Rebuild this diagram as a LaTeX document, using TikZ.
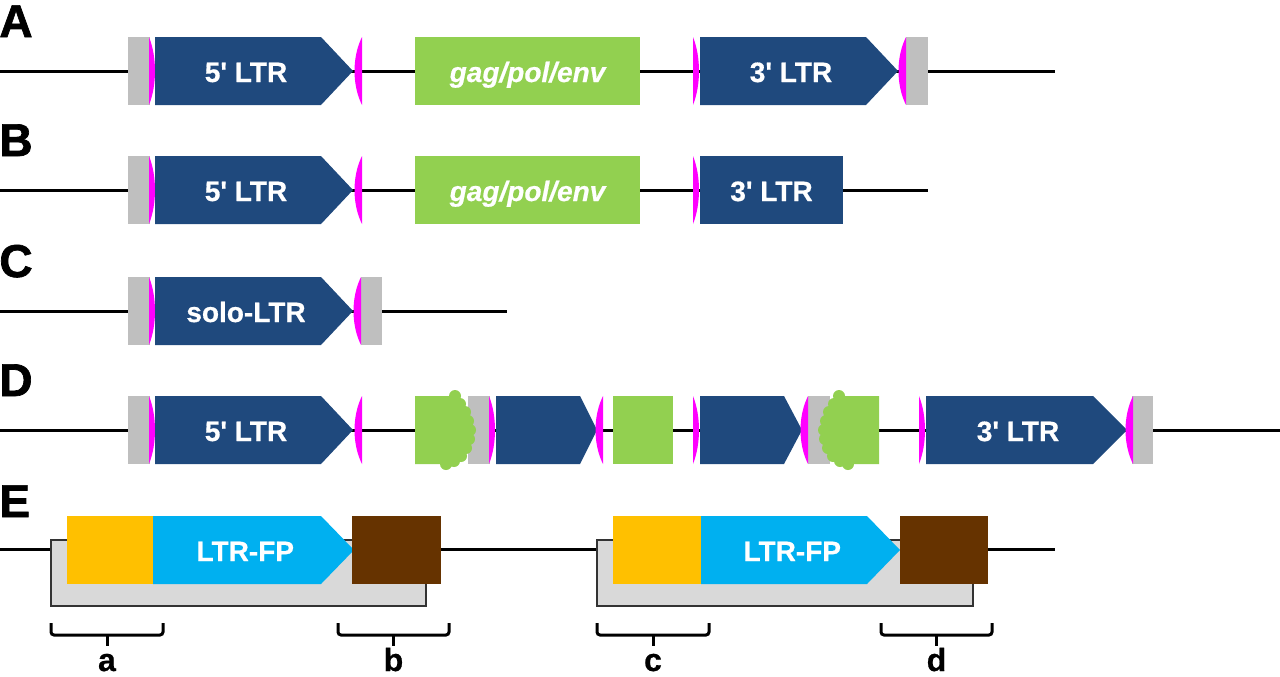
\documentclass[tikz,border=0pt]{standalone}
\usepackage{fontspec}
\setmainfont{Liberation Sans}
\newfontfamily\heavyfont[FakeBold=1.5]{Liberation Sans Bold}
\newfontfamily\boxfont[FakeBold=0.6]{Liberation Sans Bold}
\newfontfamily\boxitfont[FakeBold=0.6]{Liberation Sans Bold Italic}

\definecolor{ltrblue}{RGB}{31,73,125}
\definecolor{gaggreen}{RGB}{146,208,80}
\definecolor{flankgray}{RGB}{191,191,191}
\definecolor{tsdpink}{RGB}{255,0,255}
\definecolor{fporange}{RGB}{255,192,0}
\definecolor{fpcyan}{RGB}{0,176,240}
\definecolor{fpbrown}{RGB}{102,51,0}
\definecolor{boxgray}{RGB}{217,217,217}

\tikzstyle{backbone}=[line width=1.5pt,black]
\tikzstyle{flank}=[fill=flankgray]
\tikzstyle{tsd}=[fill=tsdpink]
\tikzstyle{hostbox}=[fill=boxgray,draw=black!80,line width=0.75pt]
\tikzstyle{boxtext}=[text=white,font=\fontsize{14}{16}\selectfont\boxfont,inner sep=0pt,anchor=base]
\tikzstyle{gagtext}=[boxtext,font=\fontsize{14}{16}\selectfont\boxitfont]
\tikzstyle{rowlabel}=[font=\fontsize{23}{26}\selectfont\heavyfont,inner sep=0pt,anchor=base west]
\tikzstyle{bracket}=[line width=1.5pt,rounded corners=1.5pt]
\tikzstyle{bracketlabel}=[font=\fontsize{16}{18}\selectfont\boxfont,inner sep=0pt,anchor=base]

\newcommand{\flankbox}[3]{\fill[flank] (#1,#3-34) rectangle (#2,#3+34);}
\newcommand{\tsdright}[2]{\fill[tsd] (#1,#2-34) .. controls (#1+8,#2-14) and (#1+8,#2+14) .. (#1,#2+34) -- cycle;}
\newcommand{\tsdleft}[2]{\fill[tsd] (#1,#2-34) .. controls (#1-10,#2-14) and (#1-10,#2+14) .. (#1,#2+34) -- cycle;}
\newcommand{\ltrarrow}[7]{%
\fill[#2] (#3,#6-34) -- (#4-#5,#6-34) -- (#4,#6) -- (#4-#5,#6+34) -- (#3,#6+34) -- cycle;
\node[boxtext] (#1) at ({(#3+#4-#5/2)/2},#6+11) {#7};}
\newcommand{\bracketmark}[4]{%
\draw[bracket] (#2,623) |- (#3,635) -- (#3,623);
\draw[bracket] ({(#2+#3)/2},635) -- ({(#2+#3)/2},646);
\node[bracketlabel] (#1) at ({(#2+#3)/2},671) {#4};}

\begin{document}
\begin{tikzpicture}[x=0.5pt,y=-0.5pt]
\useasboundingbox (0,0) rectangle (1280,676);

\node[rowlabel] (rowA) at (-1,37) {A};
\coordinate (A0) at (0,71); \coordinate (A1) at (1055,71);
\draw[backbone] (A0) -- (A1);
\flankbox{128}{150}{71} \tsdright{149}{71}
\ltrarrow{ltrA5}{ltrblue}{155}{353}{32}{71}{5' LTR}
\tsdleft{362}{71}
\fill[gaggreen] (415,37) rectangle (640,105);
\node[gagtext] (gagA) at (527.5,82) {gag/pol/env};
\tsdright{693}{71}
\ltrarrow{ltrA3}{ltrblue}{700}{898}{32}{71}{3' LTR}
\flankbox{906}{928}{71} \tsdleft{906}{71}

\node[rowlabel] (rowB) at (-1,156) {B};
\coordinate (B0) at (0,190); \coordinate (B1) at (928,190);
\draw[backbone] (B0) -- (B1);
\flankbox{128}{150}{190} \tsdright{149}{190}
\ltrarrow{ltrB5}{ltrblue}{155}{353}{32}{190}{5' LTR}
\tsdleft{362}{190}
\fill[gaggreen] (415,156) rectangle (640,224);
\node[gagtext] (gagB) at (527.5,201) {gag/pol/env};
\tsdright{693}{190}
\fill[ltrblue] (700,156) rectangle (843,224);
\node[boxtext] (ltrB3) at (771.5,201) {3' LTR};

\node[rowlabel] (rowC) at (-1,277) {C};
\coordinate (C0) at (0,311); \coordinate (C1) at (507,311);
\draw[backbone] (C0) -- (C1);
\flankbox{128}{150}{311} \tsdright{149}{311}
\ltrarrow{soloC}{ltrblue}{155}{353}{32}{311}{solo-LTR}
\flankbox{361}{382}{311} \tsdleft{361}{311}

\node[rowlabel] (rowD) at (-1,396) {D};
\coordinate (D0) at (0,430); \coordinate (D1) at (1280,430);
\draw[backbone] (D0) -- (D1);
\flankbox{128}{150}{430} \tsdright{149}{430}
\ltrarrow{ltrD5}{ltrblue}{155}{353}{32}{430}{5' LTR}
\tsdleft{362}{430}
\flankbox{468}{490}{430}
\fill[gaggreen] (415,396) -- (452,396) -- (458,404) -- (463,414) -- (467,424) -- (468,436) -- (465,446) -- (460,455) -- (452,462) -- (445,464) -- (415,464) -- cycle;
\fill[gaggreen] (455,396) circle[radius=6] (460,404) circle[radius=6] (465,412) circle[radius=6] (468,421) circle[radius=6] (470,430) circle[radius=6]
  (469,439) circle[radius=6] (466,448) circle[radius=6] (461,456) circle[radius=6] (454,461) circle[radius=6] (446,464) circle[radius=6];
\tsdright{489}{430}
\ltrarrow{innerD1}{ltrblue}{496}{597}{17}{430}{}
\tsdleft{603}{430}
\fill[gaggreen] (613,396) rectangle (673,464);
\tsdright{693}{430}
\ltrarrow{innerD2}{ltrblue}{700}{802}{18}{430}{}
\flankbox{808}{830}{430} \tsdleft{808}{430}
\fill[gaggreen] (879,396) -- (842,396) -- (836,404) -- (831,414) -- (827,424) -- (826,436) -- (829,446) -- (834,455) -- (842,462) -- (849,464) -- (879,464) -- cycle;
\fill[gaggreen] (839,396) circle[radius=6] (834,404) circle[radius=6] (829,412) circle[radius=6] (826,421) circle[radius=6] (824,430) circle[radius=6]
  (825,439) circle[radius=6] (828,448) circle[radius=6] (833,456) circle[radius=6] (840,461) circle[radius=6] (848,464) circle[radius=6];
\tsdright{919}{430}
\ltrarrow{ltrD3}{ltrblue}{926}{1127}{34}{430}{3' LTR}
\flankbox{1132}{1153}{430} \tsdleft{1133}{430}

\node[rowlabel] (rowE) at (-1,517) {E};
\coordinate (E0) at (0,549); \coordinate (E1) at (1055,549);
\draw[backbone] (E0) -- (E1);
\filldraw[hostbox] (51,540) rectangle (426,606);
\fill[fporange] (67,516) rectangle (153,584);
\ltrarrow{fpE1}{fpcyan}{153}{354}{33}{550}{LTR-FP}
\fill[fpbrown] (352,516) rectangle (441,584);
\filldraw[hostbox] (597,540) rectangle (973,606);
\fill[fporange] (613,516) rectangle (701,584);
\ltrarrow{fpE2}{fpcyan}{701}{900}{33}{550}{LTR-FP}
\fill[fpbrown] (900,516) rectangle (988,584);

\bracketmark{brA}{51}{163}{a}
\bracketmark{brB}{338}{449}{b}
\bracketmark{brC}{597}{709}{c}
\bracketmark{brD}{881}{992}{d}
\end{tikzpicture}
\end{document}
